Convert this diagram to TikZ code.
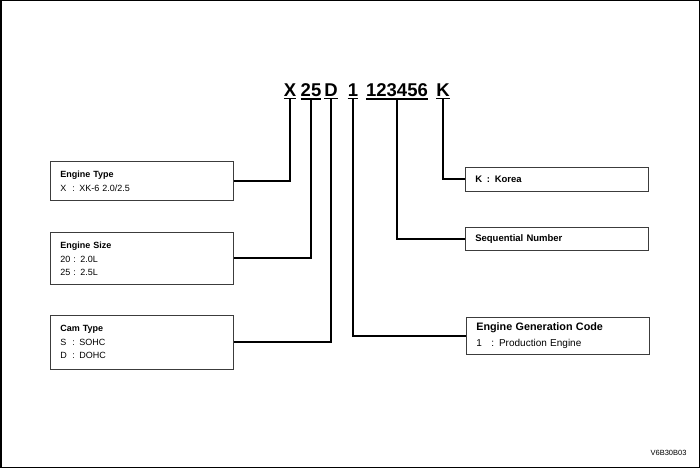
\documentclass[tikz,border=0pt]{standalone}
\usepackage{fontspec}
\setmainfont{Liberation Sans}
\usetikzlibrary{calc, positioning}
\definecolor{boxline}{RGB}{60,60,60}
\tikzset{
  codepart/.style={font=\fontsize{18.5}{18}\selectfont\bfseries, inner xsep=0pt, inner ysep=2.5pt, anchor=base},
  codeline/.style={line width=1.4pt},
  infobox/.style={draw=boxline, line width=0.6pt, anchor=north west, align=left,
    inner xsep=10pt, minimum width=183pt, text width=163pt, font=\fontsize{9}{13}\selectfont},
  leader/.style={line width=1.8pt}
}
\newcommand{\lbl}[1]{\makebox[12pt][l]{#1}}

\begin{document}
\begin{tikzpicture}[x=1pt, y=-1pt]
    \useasboundingbox (0,0) rectangle (700,468);
    % frame
    \draw[line width=1.5pt] (0.75,0.75) rectangle (699.25,467.25);

    % code
    \node[codepart] (cX)   at (290,96) {X};
    \node[codepart] (c25)  at (311,96) {25};
    \node[codepart] (cD)   at (331,96) {D};
    \node[codepart] (c1)   at (353,96) {1};
    \node[codepart] (cSeq) at (397,96) {123456};
    \node[codepart] (cK)   at (443,96) {K};
    \foreach \c in {cX,c25,cD,c1,cSeq,cK}
        \draw[codeline] (\c.south west) -- (\c.south east);

    % left boxes
    \node[infobox, minimum height=39pt] (typebox) at (50,161)
        {\textbf{Engine Type}\\[1pt]\lbl{X}: XK-6 2.0/2.5};
    \node[infobox, minimum height=52pt] (sizebox) at (50,232)
        {\textbf{Engine Size}\\[1pt]20 : 2.0L\\25 : 2.5L};
    \node[infobox, minimum height=54pt] (cambox) at (50,315)
        {\textbf{Cam Type}\\[1pt]\lbl{S}: SOHC\\\lbl{D}: DOHC};

    % right boxes
    \node[infobox, minimum height=24pt, font=\fontsize{9.5}{13}\selectfont] (kbox) at (465,167)
        {\textbf{K\enspace:\enspace Korea}};
    \node[infobox, minimum height=23pt, font=\fontsize{9.5}{13}\selectfont] (seqbox) at (465,227)
        {\textbf{Sequential Number}};
    \node[infobox, minimum height=37pt, font=\fontsize{10}{16}\selectfont] (genbox) at (466,317)
        {\textbf{\fontsize{10.8}{16}\selectfont Engine Generation Code}\\\makebox[15pt][l]{1}: Production Engine};

    % leaders
    \draw[leader] (cX.south) |- (typebox.east);
    \draw[leader] (c25.south) |- (sizebox.east);
    \draw[leader] (cD.south) |- (cambox.east);
    \draw[leader] (c1.south) |- (genbox.west);
    \draw[leader] (cSeq.south) |- (seqbox.west);
    \draw[leader] (cK.south) |- (kbox.west);

    \node[anchor=base east, font=\fontsize{7.5}{7.5}\selectfont] (tag) at (690,455) {V6B30B03};
\end{tikzpicture}
\end{document}
